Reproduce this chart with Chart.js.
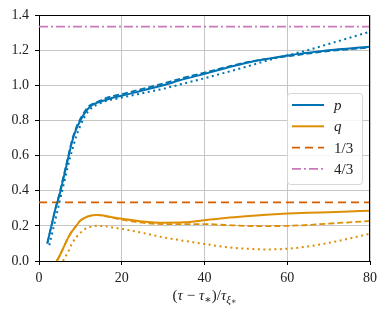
<!DOCTYPE html>
<html>
<head>
<meta charset="utf-8">
<script src="https://cdn.jsdelivr.net/npm/chart.js@4/dist/chart.umd.min.js"></script>
<style>
  html, body { margin: 0; padding: 0; background: #fff; }
  canvas { display: block; }
</style>
</head>
<body>
<canvas id="chart" width="388" height="317"></canvas>
<script>
// values
const xTicks = [0, 20, 40, 60, 80];
const yTicks = [0, 0.2, 0.4, 0.6, 0.8, 1.0, 1.2, 1.4];

const pX = [2, 3, 4, 5, 6, 7, 8, 9, 10, 11, 12, 13, 14, 16, 18, 20, 25, 30, 35, 40, 45, 50, 55, 60, 65, 70, 75, 80];
const pSolid = [0.1, 0.2, 0.3, 0.38, 0.48, 0.58, 0.68, 0.75, 0.8, 0.84, 0.87, 0.89, 0.9, 0.915, 0.93, 0.94, 0.97, 1.0, 1.035, 1.065, 1.097, 1.127, 1.15, 1.17, 1.185, 1.2, 1.21, 1.22];
const pDashed = [0.1, 0.2, 0.3, 0.39, 0.49, 0.59, 0.69, 0.76, 0.81, 0.85, 0.88, 0.895, 0.905, 0.925, 0.94, 0.95, 0.98, 1.01, 1.043, 1.072, 1.102, 1.13, 1.15, 1.165, 1.18, 1.195, 1.205, 1.215];

const pDotX = [2.5, 3, 4, 5, 6, 7, 8, 9, 10, 11, 12, 13, 14, 16, 18, 20, 25, 30, 35, 40, 45, 50, 55, 60, 65, 70, 75, 80];
const pDotted = [0.09, 0.14, 0.24, 0.34, 0.44, 0.54, 0.63, 0.71, 0.77, 0.82, 0.855, 0.875, 0.89, 0.91, 0.92, 0.93, 0.955, 0.98, 1.01, 1.04, 1.072, 1.105, 1.14, 1.17, 1.2, 1.235, 1.27, 1.305];

const qX = [4.3, 5, 6, 7, 8, 9, 10, 11, 12, 13, 14, 15, 17, 20, 25, 30, 35, 40, 45, 50, 55, 60, 65, 70, 75, 80];
const qSolid = [0, 0.03, 0.08, 0.13, 0.17, 0.2, 0.23, 0.245, 0.255, 0.26, 0.262, 0.26, 0.252, 0.24, 0.225, 0.218, 0.22, 0.232, 0.245, 0.255, 0.263, 0.27, 0.275, 0.278, 0.282, 0.286];
const qDashed = [0, 0.03, 0.08, 0.13, 0.17, 0.2, 0.23, 0.245, 0.255, 0.26, 0.262, 0.26, 0.25, 0.235, 0.218, 0.21, 0.21, 0.21, 0.205, 0.2, 0.199, 0.2, 0.205, 0.213, 0.22, 0.228];

const qDotX = [5.8, 7, 8, 9, 10, 11, 12, 13, 14, 16, 18, 20, 25, 30, 35, 40, 45, 50, 55, 60, 65, 70, 75, 80];
const qDotted = [0, 0.05, 0.1, 0.135, 0.16, 0.18, 0.19, 0.198, 0.2, 0.198, 0.19, 0.183, 0.16, 0.135, 0.115, 0.097, 0.08, 0.07, 0.066, 0.07, 0.083, 0.103, 0.128, 0.155];

const constX = [0, 80];
const oneThird = [1 / 3, 1 / 3];
const fourThirds = [4 / 3, 4 / 3];

const legendLabels = ['p', 'q', '1/3', '4/3'];

const BLUE = '#0173b2';
const ORANGE = '#de8f05';
const DARKORANGE = '#d55e00';
const PINK = '#cc78bc';

const pts = (xs, ys) => xs.map((x, i) => ({ x: x, y: ys[i] }));

const line = (data, color, dash, width) => ({
  data: data,
  borderColor: color,
  borderWidth: width || 2,
  borderDash: dash || [],
  pointRadius: 0,
  fill: false,
  tension: 0,
  cubicInterpolationMode: 'monotone',
});

const datasets = [
  line(pts(pX, pSolid), BLUE, [], 2),            // 0  p
  line(pts(qX, qSolid), ORANGE, [], 2),          // 1  q
  line(pts(constX, oneThird), DARKORANGE, [8, 5], 1.8),      // 2  1/3
  line(pts(constX, fourThirds), PINK, [9, 3, 2, 3], 1.8),    // 3  4/3
  line(pts(pX, pDashed), BLUE, [6, 3], 1.8),
  line(pts(pDotX, pDotted), BLUE, [2, 3.5], 2),
  line(pts(qX, qDashed), ORANGE, [6, 3], 1.8),
  line(pts(qDotX, qDotted), ORANGE, [2, 3.5], 2),
];

const serif = '"Liberation Serif", "DejaVu Serif", serif';

// legend box, frame and axis title
const extras = {
  id: 'extras',
  afterDraw(chart) {
    const ctx = chart.ctx;
    const a = chart.chartArea;
    ctx.save();

    // top and right frame
    ctx.strokeStyle = '#000';
    ctx.lineWidth = 1;
    ctx.beginPath();
    ctx.moveTo(a.left, a.top + 0.5);
    ctx.lineTo(a.right - 0.5, a.top + 0.5);
    ctx.lineTo(a.right - 0.5, a.bottom);
    ctx.stroke();

    // legend
    const bx = 287.5, by = 93.5, bw = 75, bh = 91, r = 3;
    ctx.fillStyle = 'rgba(255,255,255,0.85)';
    ctx.strokeStyle = '#d6d6d6';
    ctx.beginPath();
    ctx.roundRect(bx, by, bw, bh, r);
    ctx.fill();
    ctx.stroke();

    legendLabels.forEach((lab, i) => {
      const ds = chart.data.datasets[i];
      const y = 105 + i * 21.3;
      ctx.strokeStyle = ds.borderColor;
      ctx.lineWidth = ds.borderWidth;
      ctx.setLineDash(ds.borderDash);
      ctx.beginPath();
      ctx.moveTo(292, y);
      ctx.lineTo(324, y);
      ctx.stroke();
      ctx.setLineDash([]);
      ctx.fillStyle = '#222';
      ctx.textBaseline = 'middle';
      ctx.textAlign = 'left';
      ctx.font = (i < 2 ? 'italic ' : '') + '15px ' + serif;
      ctx.fillText(lab, 334, y + (i < 2 ? 1 : 1));
    });

    // x axis title: (τ − τ*)/τ_{ξ*}
    const parts = [
      ['(', '15px', 0],
      ['τ', 'italic 15px', 0],
      [' − ', '15px', 0],
      ['τ', 'italic 15px', 0],
      ['∗', '11px', 3],
      [')/', '15px', 0],
      ['τ', 'italic 15px', 0],
      ['ξ', 'italic 11px', 3],
      ['∗', '8px', 4],
    ];
    let total = 0;
    parts.forEach(p => { ctx.font = p[1] + ' ' + serif; total += ctx.measureText(p[0]).width; });
    let x = (a.left + a.right) / 2 - total / 2;
    const base = 300;
    ctx.fillStyle = '#222';
    ctx.textAlign = 'left';
    ctx.textBaseline = 'alphabetic';
    parts.forEach(p => {
      ctx.font = p[1] + ' ' + serif;
      ctx.fillText(p[0], x, base + p[2]);
      x += ctx.measureText(p[0]).width;
    });

    ctx.restore();
  }
};

new Chart(document.getElementById('chart'), {
  type: 'line',
  data: { datasets: datasets },
  options: {
    responsive: false,
    animation: false,
    devicePixelRatio: 1,
    layout: { padding: { top: 15, right: 18, left: 0, bottom: 0 } },
    plugins: { legend: { display: false }, tooltip: { enabled: false } },
    scales: {
      x: {
        type: 'linear',
        min: 0,
        max: 80,
        afterBuildTicks: s => { s.ticks = xTicks.map(v => ({ value: v })); },
        afterFit: s => { s.height = 56; },
        grid: { color: '#c6c6c6', lineWidth: 1, tickColor: '#000', tickLength: 4 },
        border: { color: '#000', width: 1 },
        ticks: { color: '#222', font: { family: serif, size: 14 }, padding: 5, maxRotation: 0 },
      },
      y: {
        type: 'linear',
        min: 0,
        max: 1.4,
        afterBuildTicks: s => { s.ticks = yTicks.map(v => ({ value: v })); },
        afterFit: s => { s.width = 39; },
        grid: { color: '#c6c6c6', lineWidth: 1, tickColor: '#000', tickLength: 4 },
        border: { color: '#000', width: 1 },
        ticks: { color: '#222', font: { family: serif, size: 14 }, padding: 6, callback: v => v.toFixed(1) },
      },
    },
  },
  plugins: [extras],
});
</script>
</body>
</html>
